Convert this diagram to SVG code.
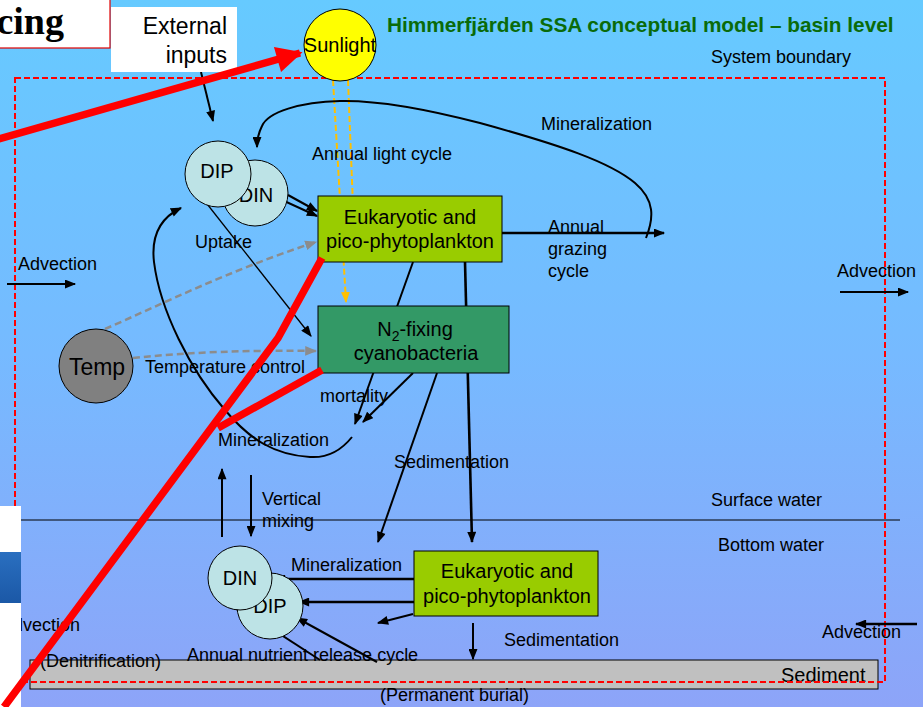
<svg xmlns="http://www.w3.org/2000/svg" width="923" height="707" viewBox="0 0 923 707">
  <defs>
    <linearGradient id="sea" x1="0" y1="0" x2="0" y2="1">
      <stop offset="0" stop-color="#66CAFF"/>
      <stop offset="0.5" stop-color="#76BAFF"/>
      <stop offset="1" stop-color="#8DA4F8"/>
    </linearGradient>
    <linearGradient id="band" x1="0" y1="0" x2="0" y2="1">
      <stop offset="0" stop-color="#2A6FC0"/>
      <stop offset="1" stop-color="#1B58A6"/>
    </linearGradient>
    <marker id="ah" viewBox="0 0 10 8" refX="9" refY="4" markerWidth="12" markerHeight="9" markerUnits="userSpaceOnUse" orient="auto">
      <path d="M0,0 L10,4 L0,8 z" fill="#000"/>
    </marker>
    <marker id="ahg" viewBox="0 0 10 8" refX="9" refY="4" markerWidth="12" markerHeight="10" markerUnits="userSpaceOnUse" orient="auto">
      <path d="M0,0 L10,4 L0,8 z" fill="#8C8C8C"/>
    </marker>
    <marker id="ahy" viewBox="0 0 10 8" refX="9" refY="4" markerWidth="11" markerHeight="10" markerUnits="userSpaceOnUse" orient="auto">
      <path d="M0,0 L10,4 L0,8 z" fill="#FFC000"/>
    </marker>
    <marker id="ahr" viewBox="0 0 10 10" refX="9" refY="5" markerWidth="28" markerHeight="26" markerUnits="userSpaceOnUse" orient="auto">
      <path d="M0,0 L10,5 L0,10 z" fill="#FF0000"/>
    </marker>
    <style>
      text { font-family: "Liberation Sans", Arial, sans-serif; fill: #000; }
      .serif { font-family: "Liberation Serif", "Times New Roman", serif; }
      .lbl { font-size: 18px; }
      .box { font-size: 20px; text-anchor: middle; }
      .circ { font-size: 20px; text-anchor: middle; }
      .nut { fill: #BDE3E6; stroke: #000; stroke-width: 1; }
      .ln { fill: none; stroke: #000; stroke-width: 2; marker-end: url(#ah); }
      .thin { fill: none; stroke: #000; stroke-width: 1.3; marker-end: url(#ah); }
      .thick { fill: none; stroke: #000; stroke-width: 2.6; marker-end: url(#ah); }
      .tmp { fill: none; stroke: #8C8C8C; stroke-width: 2.5; stroke-dasharray: 7 4; marker-end: url(#ahg); }
      .sun { fill: none; stroke: #FFC000; stroke-width: 2; stroke-dasharray: 6 3; }
      .red { fill: none; stroke: #FF0000; stroke-width: 7.5; }
    </style>
  </defs>

  <!-- water column -->
  <rect x="0" y="0" width="923" height="707" fill="url(#sea)"/>

  <!-- sediment layer -->
  <g id="sediment">
    <rect x="30" y="660" width="848" height="29" fill="#C0C0C0" stroke="#000" stroke-width="1"/>
    <text class="lbl" x="40" y="667">(Denitrification)</text>
    <text x="781" y="682" font-size="20">Sediment</text>
    <text class="lbl" x="380" y="701">(Permanent burial)</text>
  </g>

  <!-- system boundary -->
  <g id="boundary">
    <rect x="15" y="78" width="870" height="604" fill="none" stroke="#FF0000" stroke-width="2" stroke-dasharray="6 3"/>
    <text class="lbl" x="711" y="63">System boundary</text>
  </g>

  <!-- surface / bottom water interface -->
  <g id="interface">
    <line x1="20" y1="520" x2="900" y2="520" stroke="#000" stroke-width="1.2"/>
    <text class="lbl" x="711" y="506">Surface water</text>
    <text class="lbl" x="718" y="551">Bottom water</text>
  </g>

  <!-- title -->
  <text id="title" x="387" y="32" font-size="20.8" font-weight="bold" style="fill:#0A6B0A">Himmerfjärden SSA conceptual model – basin level</text>

  <!-- connectors -->
  <g id="connectors">
    <!-- external inputs -->
    <line class="ln" x1="201" y1="72" x2="213" y2="121"/>
    <!-- light -->
    <line class="sun" x1="333" y1="80" x2="346" y2="302" marker-end="url(#ahy)"/>
    <line class="sun" x1="348" y1="80" x2="353" y2="206" marker-end="url(#ahy)"/>
    <!-- surface mineralization loop -->
    <path class="ln" d="M646,238 C654,218 655,200 635,183 C610,162 560,145 480,123 C430,110 380,100 340,101 C300,102 268,112 262,126 C258,134 257,140 257,147"/>
    <!-- grazing -->
    <line class="thick" x1="502" y1="233" x2="664" y2="233"/>
    <!-- uptake -->
    <line class="ln" x1="243" y1="182" x2="317" y2="216"/>
    <line class="ln" x1="288" y1="195" x2="317" y2="211"/>
    <line class="thin" x1="200" y1="195" x2="311" y2="336"/>
    <!-- temperature control -->
    <path class="tmp" d="M105,329 C160,305 230,270 316,242"/>
    <path class="tmp" d="M133,358 C190,352 250,350 316,351"/>
    <!-- mortality -->
    <line class="ln" x1="413" y1="262" x2="355" y2="424"/>
    <line class="ln" x1="413" y1="373" x2="363" y2="422"/>
    <!-- surface mineralization back to nutrients -->
    <path class="ln" d="M352,437 C340,452 325,458 310,457 C275,455 250,440 225,410 C190,370 160,310 154,262 C151,236 160,218 181,208"/>
    <!-- sedimentation -->
    <line class="ln" x1="437" y1="373" x2="378" y2="542"/>
    <line class="thick" x1="465" y1="262" x2="472" y2="542"/>
    <!-- vertical mixing -->
    <line class="ln" x1="222" y1="537" x2="222" y2="469"/>
    <line class="ln" x1="251" y1="475" x2="251" y2="536"/>
    <!-- bottom mineralization -->
    <line class="thick" x1="414" y1="579" x2="275" y2="579"/>
    <line class="thick" x1="414" y1="602" x2="299" y2="602"/>
    <line class="ln" x1="413" y1="614" x2="378" y2="623"/>
    <line class="ln" x1="473" y1="623" x2="473" y2="659"/>
    <!-- nutrient release from sediment -->
    <line class="ln" x1="377" y1="662" x2="297" y2="618"/>
    <line class="ln" x1="320" y1="660" x2="232" y2="603"/>
    <!-- advection -->
    <line class="ln" x1="7" y1="284" x2="75" y2="284"/>
    <line class="ln" x1="840" y1="292" x2="908" y2="292"/>
    <line class="thick" x1="917" y1="624" x2="856" y2="624"/>
  </g>

  <!-- labels on flows -->
  <g id="labels">
    <text class="lbl" x="541" y="130">Mineralization</text>
    <text class="lbl" x="312" y="160">Annual light cycle</text>
    <text class="lbl" x="195" y="248">Uptake</text>
    <text class="lbl" x="548" y="233">Annual</text>
    <text class="lbl" x="548" y="255">grazing</text>
    <text class="lbl" x="548" y="277">cycle</text>
    <text class="lbl" x="145" y="373">Temperature control</text>
    <text class="lbl" x="320" y="402">mortality</text>
    <text class="lbl" x="218" y="446">Mineralization</text>
    <text class="lbl" x="394" y="468">Sedimentation</text>
    <text class="lbl" x="262" y="505">Vertical</text>
    <text class="lbl" x="262" y="527">mixing</text>
    <text class="lbl" x="291" y="571">Mineralization</text>
    <text class="lbl" x="504" y="646">Sedimentation</text>
    <text class="lbl" x="187" y="661">Annual nutrient release cycle</text>
    <text class="lbl" x="18" y="270">Advection</text>
    <text class="lbl" x="837" y="277">Advection</text>
    <text class="lbl" x="822" y="638">Advection</text>
    <text class="lbl" x="1" y="631">Advection</text>
  </g>

  <!-- nodes -->
  <g id="external-inputs">
    <rect x="111" y="7" width="126" height="65" fill="#FFFFFF"/>
    <text x="227" y="34" font-size="23" text-anchor="end">External</text>
    <text x="227" y="63" font-size="23" text-anchor="end">inputs</text>
  </g>

  <g id="sunlight">
    <circle cx="340" cy="45" r="36" fill="#FFFF00" stroke="#000" stroke-width="1"/>
    <text class="circ" x="340" y="52">Sunlight</text>
  </g>

  <g id="nutrients-surface">
    <circle class="nut" cx="255" cy="193" r="33"/>
    <text class="circ" x="256" y="202">DIN</text>
    <circle class="nut" cx="218" cy="174" r="33"/>
    <text class="circ" x="217" y="178">DIP</text>
  </g>

  <g id="phyto-surface">
    <rect x="318" y="196" width="184" height="66" fill="#99CC00" stroke="#000" stroke-width="1"/>
    <text class="box" x="410" y="224">Eukaryotic and</text>
    <text class="box" x="410" y="248">pico-phytoplankton</text>
  </g>

  <g id="cyanobacteria">
    <rect x="318" y="306" width="191" height="67" fill="#339966" stroke="#000" stroke-width="1"/>
    <text class="box" x="415" y="336">N<tspan font-size="14" dy="5">2</tspan><tspan dy="-5">-fixing</tspan></text>
    <text class="box" x="416" y="360">cyanobacteria</text>
  </g>

  <g id="temp">
    <circle cx="96" cy="366" r="37" fill="#808080" stroke="#000" stroke-width="1"/>
    <text x="97" y="375" font-size="23" text-anchor="middle">Temp</text>
  </g>

  <g id="nutrients-bottom">
    <circle class="nut" cx="270" cy="606" r="33"/>
    <text class="circ" x="270" y="613">DIP</text>
    <circle class="nut" cx="240" cy="578" r="32"/>
    <text class="circ" x="240" y="585">DIN</text>
  </g>

  <g id="phyto-bottom">
    <rect x="414" y="551" width="184" height="65" fill="#99CC00" stroke="#000" stroke-width="1"/>
    <text class="box" x="507" y="578">Eukaryotic and</text>
    <text class="box" x="507" y="603">pico-phytoplankton</text>
  </g>

  <!-- edge panels -->
  <g id="side-panel">
    <rect x="0" y="506" width="21" height="201" fill="#FFFFFF"/>
    <rect x="0" y="552" width="21" height="51" fill="url(#band)"/>
  </g>
  <g id="heading-box">
    <rect x="-2" y="-2" width="112" height="50" fill="#FFFFFF" stroke="#E00000" stroke-width="1.2"/>
    <text class="serif" x="64" y="34" font-size="38" font-weight="bold" text-anchor="end">cing</text>
  </g>

  <!-- red overlay strokes -->
  <g id="overlay">
    <line class="red" x1="-5" y1="140" x2="300" y2="53" marker-end="url(#ahr)"/>
    <polyline class="red" points="322,258 278,338 4,707"/>
    <line class="red" x1="322" y1="370" x2="218" y2="428"/>
  </g>
</svg>
